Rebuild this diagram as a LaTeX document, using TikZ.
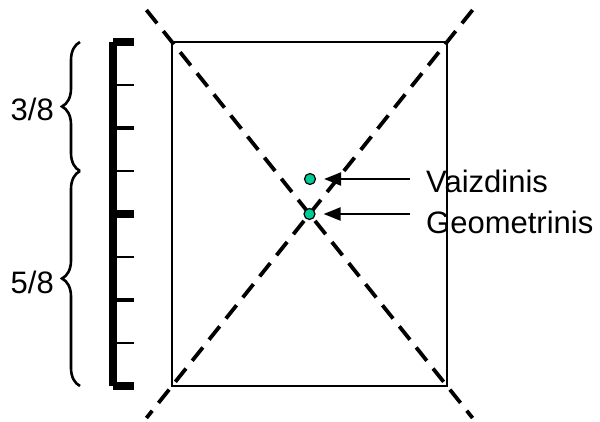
\documentclass[tikz,border=0pt]{standalone}
\usepackage{fontspec}
\setmainfont{Liberation Sans}
\usepackage{tikz}
\usetikzlibrary{arrows.meta,calc,decorations.pathreplacing}
\definecolor{dotgreen}{RGB}{0,204,153}

\begin{document}
\begin{tikzpicture}[x=1pt,y=-1pt,>={Triangle[length=17pt,width=13pt]}]
  \tikzstyle{txt}=[inner sep=0pt,font=\fontsize{31}{36}\selectfont]
  \tikzstyle{centre}=[circle,draw,line width=1.2pt,fill=dotgreen,minimum size=11pt,inner sep=0pt]
  \tikzstyle{diag}=[line width=3.8pt,dash pattern=on 17pt off 10pt]
  \tikzstyle{curly}=[line width=2.6pt,decorate,decoration={brace,amplitude=18pt}]
  \useasboundingbox (0,0) rectangle (600,421);
  % frame and its diagonals
  \coordinate (nw) at (172,42);
  \coordinate (ne) at (447,42);
  \coordinate (sw) at (172,386);
  \coordinate (se) at (447,386);
  \draw[line width=2pt] (nw) rectangle (se);
  \draw[diag] ($(nw)!-0.093!(se)$) -- ($(se)!-0.093!(nw)$);
  \draw[diag] ($(ne)!-0.093!(sw)$) -- ($(sw)!-0.093!(ne)$);
  % ruler
  \draw[line width=8pt] (113,42) -- (113,386);
  \foreach \i/\w in {0/8pt,1/2pt,2/4pt,3/2pt,4/8pt,5/2pt,6/4pt,7/2pt,8/8pt}
    \draw[line width=\w] (113,42+43*\i) -- (134,42+43*\i);
  % braces
  \draw[curly] (80,171) -- (80,42);
  \draw[curly] (80,386) -- (80,171);
  \node[txt,anchor=base east] (three) at (54,120) {3/8};
  \node[txt,anchor=base east] (five) at (54,293) {5/8};
  % centres
  \node[centre] (vis) at (310,179) {};
  \node[centre] (geo) at ($(nw)!0.5!(se)$) {};
  \node[txt,anchor=base west] (vlab) at (426,192) {Vaizdinis};
  \node[txt,anchor=base west] (glab) at (426,233) {Geometrinis};
  \draw[->,line width=2.2pt,shorten <=16pt,shorten >=8pt] (vis -| vlab.west) -- (vis.east);
  \draw[->,line width=2.2pt,shorten <=16pt,shorten >=8pt] (geo -| glab.west) -- (geo.east);
\end{tikzpicture}
\end{document}
